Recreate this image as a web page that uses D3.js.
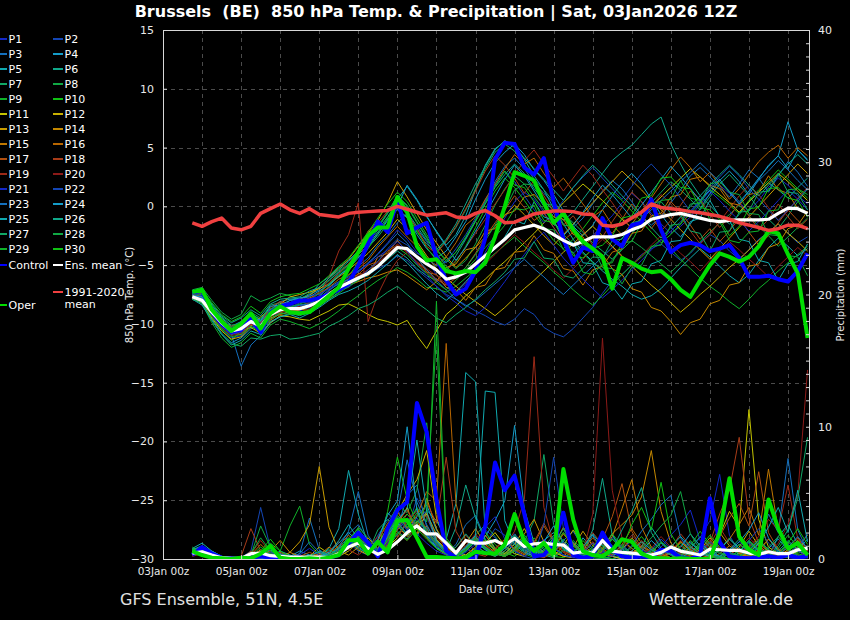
<!DOCTYPE html>
<html>
<head>
<meta charset="utf-8">
<script src="https://cdn.jsdelivr.net/npm/d3@7"></script>
<style>
body { margin: 0; background: #000; }
svg { display: block; font-family: "DejaVu Sans", sans-serif; }
</style>
</head>
<body>
<svg id="chart" width="850" height="620"></svg>
<script>
// ensemble members P1..P30
var memberNames = ["P1","P2","P3","P4","P5","P6","P7","P8","P9","P10",
	"P11","P12","P13","P14","P15","P16","P17","P18","P19","P20",
	"P21","P22","P23","P24","P25","P26","P27","P28","P29","P30"];

var memberColors = ["#1428c8","#1446b4","#1470be","#149cc8","#10aab0","#10a88a","#10a866","#10a844","#10b22a","#10c014",
	"#c4c400","#c8b000","#c89c00","#c48800","#c07800","#b86600","#b05010","#a83c18","#9c2a18","#8c1a18",
	"#1428c8","#1446b4","#1470be","#149cc8","#10aab0","#10a88a","#10a866","#10a844","#10b22a","#10c014"];

// 850 hPa temperature, 6-hourly from 03Jan 18z to 19Jan 12z
var tempControl = [-7.3,-7.2,-9.0,-10.0,-10.7,-10.5,-9.5,-10.7, -9.0,-8.5,-8.3,-8.0,-8.0,-7.8,-7.5,-7.1,
	-6.6,-5.0,-3.2,-1.3,-2.2,0.5,-2.3,-1.8, -1.4,-4.3,-6.3,-7.5,-7.0,-5.5,-2.7,4.0,
	5.4,5.3,3.3,2.7,4.1,0.4,-2.8,-4.8, -3.5,-3.8,-1.0,-2.8,-3.4,-1.6,-1.4,0.6,
	-2.0,-3.9,-3.3,-3.1,-3.3,-3.8,-3.6,-3.3, -4.4,-6.0,-6.0,-5.9,-6.2,-6.4,-5.5,-4.0];

var tempOper = [-7.3,-7.1,-8.8,-9.8,-10.6,-10.0,-9.1,-10.4, -9.1,-8.5,-9.0,-9.1,-9.0,-8.3,-7.6,-6.9,
	-5.3,-3.9,-2.5,-1.8,-1.8,0.8,-0.5,-3.4, -4.6,-4.5,-5.5,-5.7,-5.5,-5.6,-4.8,-2.6,
	0.0,2.9,2.6,2.2,0.3,-1.4,-0.6,-2.0, -3.0,-3.6,-4.3,-7.0,-4.4,-4.8,-5.3,-5.6,
	-5.5,-6.2,-7.1,-7.7,-6.3,-5.0,-4.0,-4.3, -4.7,-4.3,-3.4,-2.1,-2.3,-4.1,-5.7,-11.2];

var tempMean = [-7.7,-8.0,-9.0,-9.9,-10.6,-10.4,-9.8,-10.2, -9.2,-8.8,-8.7,-8.7,-8.45,-8.1,-7.5,-6.9,
	-6.5,-6.1,-5.7,-5.1,-4.3,-3.5,-3.6,-4.3, -4.9,-5.4,-6.2,-6.0,-5.6,-4.9,-4.2,-3.5,
	-2.8,-2.0,-1.8,-1.6,-1.9,-2.4,-2.9,-3.3, -3.0,-2.6,-2.6,-2.6,-2.4,-2.0,-1.7,-1.1,
	-0.9,-0.7,-0.6,-0.8,-1.0,-1.2,-1.3,-1.2, -1.15,-1.15,-1.15,-1.1,-0.6,-0.15,-0.2,-0.6];

var tempClimate = [-1.4,-1.7,-1.3,-1.0,-1.85,-2.0,-1.7,-0.6, -0.2,0.2,-0.3,-0.6,-0.2,-0.7,-0.8,-0.9,
	-0.6,-0.5,-0.45,-0.4,-0.35,0.0,-0.25,-0.5, -0.75,-0.65,-0.55,-0.9,-1.0,-0.6,-0.35,-0.8,
	-1.4,-1.35,-1.0,-0.65,-0.5,-0.4,-0.4,-0.45, -0.65,-0.7,-1.6,-1.7,-1.5,-1.0,-0.5,0.2,
	-0.1,-0.2,-0.3,-0.45,-0.55,-0.7,-0.85,-1.1, -1.4,-1.6,-1.8,-2.05,-1.9,-1.6,-1.6,-1.9];

var tempMembers = [
	[-7.6,-7.9,-9.3,-10.4,-11.2,-11.0,-10.1,-10.6, -9.6,-9.0,-8.8,-8.9,-8.6,-8.0,-7.4,-6.8, -6.2,-5.5,-4.9,-4.0,-3.1,-2.0,-2.8,-3.9, -4.6,-5.8,-6.9,-7.4,-6.6,-5.2,-3.9,-2.4, -1.0,0.4,1.2,0.6,-0.5,-1.8,-3.1,-4.0, -3.2,-2.5,-1.6,-0.8,0.3,1.1,0.4,-0.6, -1.5,-2.3,-1.7,-0.9,0.2,1.0,1.8,1.1, 0.3,-0.4,0.5,1.6,2.4,1.8,0.9,0.2],
	[-7.8,-8.1,-8.8,-9.7,-10.3,-10.8,-9.5,-9.9, -8.9,-8.5,-8.6,-8.2,-8.1,-7.9,-7.2,-6.5, -6.3,-6.0,-5.8,-5.3,-4.9,-4.2,-4.6,-5.4, -6.1,-6.8,-7.5,-7.9,-8.4,-8.9,-9.3,-9.8, -10.1,-9.6,-8.7,-9.2,-10.3,-10.8,-11.1,-10.4, -9.5,-8.6,-7.4,-6.3,-5.8,-5.0,-4.1,-3.6, -3.2,-3.9,-4.6,-4.0,-3.1,-2.4,-2.9,-3.8, -4.5,-3.7,-2.8,-2.2,-1.5,-2.3,-3.1,-2.6],
	[-7.5,-7.6,-8.9,-10.1,-10.9,-13.6,-11.8,-11.0, -9.9,-9.4,-9.1,-8.7,-8.3,-7.6,-6.9,-6.4, -5.9,-5.1,-4.4,-3.3,-2.5,-1.4,-0.6,-1.9, -3.0,-4.2,-4.8,-3.9,-2.7,-1.2,0.5,2.1, 3.4,4.1,3.2,2.0,1.1,0.3,-0.9,-1.8, -1.0,0.2,1.3,2.2,1.5,0.4,-0.8,-1.6, -0.9,0.3,1.4,2.6,3.3,2.5,1.6,0.8, 1.9,3.1,2.4,1.2,2.6,3.8,2.9,1.7],
	[-7.9,-8.2,-9.6,-10.8,-11.6,-11.2,-10.4,-10.0, -9.3,-8.7,-8.0,-7.9,-7.5,-7.1,-6.3,-5.6, -5.0,-4.1,-3.3,-2.2,-1.1,-0.3,-0.9,-2.4, -3.6,-4.4,-3.8,-2.6,-1.3,0.6,2.3,3.7, 4.6,5.3,4.4,3.1,2.2,1.0,-0.4,-1.7, -2.5,-1.6,-0.3,0.9,2.0,2.8,1.9,0.6, -0.7,-1.8,-2.6,-1.5,-0.2,1.1,2.2,3.0, 2.1,1.0,2.3,3.5,4.3,7.2,4.8,3.9],
	[-7.3,-7.0,-8.4,-9.5,-10.2,-9.8,-9.1,-9.7, -8.8,-8.1,-7.9,-7.8,-7.6,-6.6,-6.0,-5.2, -4.6,-3.8,-2.9,-1.8,-0.6,0.6,1.7,0.5, -0.9,-2.1,-3.3,-2.4,-0.8,1.4,3.5,4.9, 5.5,5.2,4.0,2.6,1.4,-0.2,-1.5,-2.8, -3.9,-4.7,-5.5,-6.2,-6.8,-7.5,-7.9,-7.6, -7.0,-6.1,-5.2,-4.4,-3.6,-4.3,-5.1,-5.9, -6.5,-5.8,-4.6,-3.5,-2.7,-3.4,-4.2,-3.6],
	[-7.7,-8.0,-9.1,-10.0,-10.7,-10.3,-9.7,-10.3, -9.1,-8.9,-9.1,-9.3,-9.0,-8.4,-7.9,-7.3, -6.6,-6.2,-5.9,-5.2,-4.5,-3.8,-4.4,-5.3, -5.9,-6.3,-5.6,-4.2,-2.8,-1.3,0.2,1.6, 2.7,3.6,2.8,1.5,0.5,-0.4,-1.2,-0.5, 0.6,1.7,2.8,3.9,4.6,5.2,6.1,7.0, 7.6,5.3,3.6,2.1,0.9,0.1,-0.8,-1.5, -0.7,0.4,1.2,2.0,1.4,0.7,1.6,2.4],
	[-7.4,-7.3,-8.5,-9.4,-10.1,-10.0,-9.2,-9.6, -8.4,-8.2,-8.5,-8.4,-8.2,-7.7,-6.8,-5.9, -5.2,-4.3,-3.5,-2.6,-1.5,-0.2,-1.0,-2.2, -3.2,-3.9,-2.9,-1.8,-0.3,1.5,3.2,4.6, 5.3,4.7,3.6,2.3,1.4,0.4,-0.6,-1.4, -2.2,-3.1,-3.8,-4.5,-3.6,-2.4,-1.1,0.3, 1.2,2.1,1.4,0.6,-0.3,0.8,1.9,2.7, 1.8,0.9,-0.2,-1.1,-1.9,-0.8,0.4,1.5],
	[-7.1,-6.9,-8.0,-9.0,-9.6,-9.2,-7.6,-8.1, -7.8,-7.4,-7.6,-7.9,-7.4,-6.9,-6.3,-5.5, -4.9,-4.0,-3.0,-1.8,-0.6,0.9,0.1,-1.3, -2.6,-3.8,-4.5,-5.3,-4.6,-3.2,-1.6,0.1, 1.5,2.6,1.9,0.8,-0.3,-1.3,-2.4,-3.2, -4.0,-4.8,-5.4,-4.6,-3.7,-2.9,-3.5,-4.2, -4.9,-5.6,-4.8,-3.9,-3.0,-2.2,-1.4,-0.7, 0.1,-0.8,-1.7,-2.5,-3.4,-2.6,-1.8,-1.0],
	[-7.8,-8.3,-9.9,-11.2,-12.0,-11.6,-10.8,-11.2, -10.1,-9.6,-9.8,-10.1,-10.4,-10.0,-9.5,-8.9, -8.2,-7.6,-6.9,-6.3,-5.8,-5.2,-5.6,-6.2, -6.9,-7.0,-7.3,-6.8,-6.1,-5.4,-4.7,-4.0, -3.3,-2.6,-3.4,-4.1,-4.8,-5.6,-6.3,-7.1, -7.8,-8.4,-7.6,-6.7,-5.8,-5.0,-4.3,-3.5, -2.8,-3.6,-4.5,-5.3,-6.1,-6.8,-7.4,-8.1, -8.7,-7.9,-7.0,-6.3,-5.5,-4.8,-4.1,-3.4],
	[-7.5,-7.8,-9.4,-10.5,-11.4,-10.6,-9.9,-10.1, -9.4,-9.0,-8.9,-8.6,-8.8,-8.3,-7.6,-6.7, -5.9,-4.8,-3.6,-2.3,-1.0,0.2,-0.7,-2.1, -3.5,-4.6,-5.4,-4.7,-3.4,-1.8,-0.2,1.3, 2.4,1.6,0.5,-0.7,-1.8,-2.9,-3.6,-2.8, -1.9,-0.8,0.3,1.2,0.5,-0.4,-1.3,-2.2, -3.1,-2.4,-1.5,-0.6,0.3,1.4,0.8,0.1, -0.6,0.5,1.4,2.2,3.1,2.3,1.5,0.7],
	[-7.6,-8.0,-9.2,-10.2,-10.9,-10.6,-10.3,-10.8, -9.9,-9.3,-9.4,-9.6,-9.7,-9.3,-8.9,-8.4, -8.3,-8.7,-9.2,-9.6,-9.8,-10.1,-9.7,-11.0, -12.1,-10.6,-9.2,-8.5,-7.6,-6.9,-6.2,-5.4, -4.7,-3.9,-3.1,-2.3,-1.4,-0.6,0.3,1.1, 1.9,1.2,0.5,-0.3,-1.1,-1.8,-1.0,-0.1, 0.8,1.6,2.4,3.2,2.5,1.7,1.0,0.3, -0.5,0.4,1.2,2.0,2.8,2.1,1.3,0.5],
	[-7.9,-8.2,-9.5,-10.6,-11.3,-11.1,-10.2,-9.4, -8.8,-8.3,-7.7,-7.5,-7.3,-7.0,-6.6,-6.0, -5.4,-4.7,-4.0,-3.1,-2.2,-1.1,-1.9,-3.0, -4.2,-5.3,-6.1,-6.8,-7.5,-8.1,-8.7,-9.3, -8.6,-7.8,-7.0,-6.3,-5.5,-4.7,-3.9,-3.2, -2.4,-1.7,-2.5,-3.4,-4.2,-5.1,-5.9,-6.7, -7.4,-8.2,-9.0,-8.3,-7.5,-6.8,-6.0,-5.2, -4.5,-3.7,-2.9,-2.2,-1.5,-2.3,-3.0,-3.8],
	[-7.3,-7.5,-8.7,-9.8,-10.5,-10.1,-9.4,-9.8, -8.9,-8.4,-8.2,-7.9,-7.6,-6.9,-6.1,-5.3, -4.5,-3.4,-2.3,-1.2,0.3,2.1,0.8,-0.6, -2.0,-3.1,-4.3,-5.2,-4.4,-3.5,-2.6,-1.7, -0.8,0.1,-0.7,-1.6,-2.5,-3.3,-2.4,-1.5, -0.6,0.3,1.2,2.1,3.0,2.2,1.4,0.5, -0.3,-1.1,-2.0,-2.8,-3.7,-4.5,-3.6,-2.7, -1.8,-0.9,0.0,0.9,1.8,2.7,3.6,2.8],
	[-7.7,-8.1,-9.0,-10.3,-10.8,-10.9,-10.0,-10.4, -9.5,-9.2,-9.0,-8.8,-8.5,-8.2,-7.6,-7.0, -6.7,-6.4,-6.1,-5.9,-5.6,-5.4,-5.9,-6.5, -7.1,-6.4,-5.2,-4.9,-3.7,-3.5,-2.1,-1.9, -0.7,-0.4,0.8,1.0,0.2,-0.9,-1.1,-2.4, -2.6,-3.9,-4.1,-5.3,-5.8,-7.0,-7.3,-8.6, -8.9,-9.8,-10.9,-9.9,-9.6,-8.3,-8.0,-6.7, -6.5,-5.1,-4.9,-3.5,-3.2,-1.9,-1.6,-0.4],
	[-7.4,-7.7,-8.6,-9.6,-10.4,-10.2,-9.9,-10.5, -9.7,-9.1,-8.6,-8.7,-8.9,-8.5,-7.8,-7.1, -6.8,-5.7,-5.9,-4.3,-4.0,-2.9,-3.9,-4.2, -5.6,-5.8,-6.9,-7.1,-8.0,-6.9,-6.7,-5.4, -5.2,-3.9,-3.8,-2.5,-3.7,-4.0,-5.3,-5.5, -6.7,-5.4,-5.1,-3.9,-3.6,-2.3,-2.1,-0.8, -0.6,0.8,1.0,2.3,2.5,1.8,1.5,0.3, 0.1,1.0,1.2,2.6,1.4,1.1,-0.2,-0.5],
	[-7.6,-7.9,-9.0,-9.8,-10.6,-10.5,-10.1,-10.0, -9.0,-8.6,-8.4,-8.1,-7.8,-7.4,-6.9,-6.2, -5.8,-5.3,-4.6,-3.5,-2.6,-1.7,-2.6,-3.4, -4.5,-5.0,-4.3,-3.1,-1.6,-0.9,0.6,1.9, 3.2,4.4,3.6,4.1,2.8,1.6,2.4,1.3, 0.2,-0.9,-0.3,-1.6,-2.4,-1.5,-0.4,0.7, 1.9,3.1,4.2,3.3,2.1,2.9,1.8,0.6, 1.5,2.7,3.8,4.6,5.2,4.1,5.0,4.3],
	[-7.8,-8.0,-9.2,-10.1,-10.8,-10.4,-9.6,-10.2, -9.4,-8.8,-8.9,-8.8,-8.4,-8.1,-7.3,-6.9, -6.1,-5.8,-5.0,-4.7,-3.8,-3.3,-3.9,-4.8, -5.4,-6.2,-6.7,-6.1,-5.2,-4.0,-2.6,-1.4, -0.3,0.9,-0.1,-1.2,-0.6,-1.8,-2.9,-2.2, -3.4,-2.7,-1.5,-2.3,-1.1,0.2,-0.7,-1.9, -0.8,0.4,-0.5,-1.6,-2.8,-1.9,-3.0,-2.1, -1.0,-2.2,-3.3,-2.5,-1.4,-0.3,-1.2,-2.0],
	[-7.5,-7.4,-8.8,-9.9,-10.2,-10.0,-9.3,-9.9, -8.6,-8.1,-8.3,-8.0,-7.9,-7.3,-6.5,-5.7, -4.9,-3.8,-2.1,-1.4,-0.4,0.7,-0.6,-1.9, -3.4,-4.0,-3.0,-1.7,-0.2,1.3,3.0,4.3, 3.5,2.4,1.1,2.2,0.9,-0.4,-1.6,-0.8, -2.0,-3.3,-2.6,-1.3,-0.1,1.2,0.4,-0.8, -2.1,-1.2,0.1,1.3,0.6,-0.7,-1.8,-0.9, 0.3,-0.8,-2.0,-1.1,0.2,-0.9,-1.9,-1.1],
	[-7.6,-7.8,-9.1,-10.0,-10.5,-10.3,-9.8,-10.1, -9.0,-8.7,-8.6,-8.5,-8.2,-7.6,-6.0,-3.8, -2.4,0.3,-9.8,-7.5,-5.8,-4.6,-3.9,-4.8, -5.6,-6.4,-5.5,-4.6,-3.5,-2.3,-1.1,0.2, 1.4,2.7,3.9,4.8,3.6,2.5,1.3,2.4, 3.5,2.6,1.4,0.3,-0.9,-2.0,-1.2,-0.1, 1.0,0.2,-0.9,-2.1,-3.2,-2.4,-1.3,-0.2, 0.9,1.8,1.0,-0.1,-1.2,-0.4,0.7,1.6],
	[-7.7,-8.1,-9.3,-10.3,-11.0,-10.8,-10.0,-10.4, -9.3,-9.0,-8.9,-9.0,-8.7,-8.3,-7.6,-7.0, -6.5,-5.9,-5.4,-4.8,-4.1,-3.2,-3.9,-4.7, -5.3,-5.9,-6.6,-7.2,-6.5,-5.7,-4.9,-4.1, -3.2,-2.4,-3.1,-3.9,-4.6,-5.4,-6.1,-5.3, -4.5,-3.6,-2.8,-3.5,-4.3,-5.0,-4.2,-3.3, -2.5,-3.2,-4.0,-4.7,-5.5,-4.6,-3.8,-3.0, -3.7,-4.5,-5.2,-6.0,-5.1,-4.3,-3.5,-4.2],
	[-7.4,-7.6,-8.7,-9.9,-10.7,-10.1,-9.5,-10.0, -9.1,-8.8,-8.3,-8.1,-7.6,-7.5,-7.0,-6.5, -6.0,-5.6,-4.9,-4.3,-3.7,-3.0,-3.8,-4.9, -5.9,-6.8,-7.6,-8.2,-8.9,-9.3,-8.6,-7.5, -6.4,-5.2,-4.1,-3.0,-2.2,-3.3,-4.4,-5.3, -6.2,-7.0,-7.8,-7.1,-6.3,-5.4,-4.6,-3.7, -2.9,-2.1,-1.3,-0.5,0.4,1.3,0.5,-0.4, -1.2,-2.1,-1.3,-0.4,0.5,1.4,0.6,-0.3],
	[-7.7,-7.9,-9.0,-10.2,-10.9,-10.7,-9.9,-10.3, -9.2,-8.7,-8.5,-8.4,-8.6,-8.0,-7.7,-7.1, -6.9,-6.2,-5.4,-4.7,-3.6,-2.8,-3.3,-4.0, -4.4,-5.1,-4.7,-3.6,-2.4,-1.0,0.4,1.8, 3.0,2.1,0.9,-0.3,-1.4,-0.6,0.5,1.6, 2.5,3.3,2.4,1.5,0.6,1.7,2.8,3.6, 2.7,1.8,0.7,-0.4,0.5,1.6,2.5,3.4, 2.6,1.5,0.6,-0.3,-1.2,-0.3,0.6,1.5],
	[-7.5,-7.8,-9.2,-10.1,-10.8,-10.3,-9.6,-9.8, -9.0,-8.8,-8.7,-8.4,-8.3,-7.8,-7.1,-6.6, -6.2,-5.5,-4.8,-4.1,-3.2,-2.3,-3.1,-4.4, -5.4,-6.3,-7.1,-7.9,-8.5,-8.0,-7.3,-6.6, -5.9,-5.2,-4.5,-5.3,-6.0,-6.8,-7.5,-6.7, -5.9,-5.1,-4.3,-3.5,-2.7,-1.9,-1.1,-0.3, 0.5,1.3,2.1,2.9,3.7,2.9,2.1,1.3, 0.4,1.3,2.2,3.0,3.9,3.1,2.2,1.4],
	[-7.6,-7.7,-8.9,-9.8,-10.5,-10.0,-9.4,-9.7, -8.5,-8.4,-8.0,-7.8,-7.7,-7.2,-6.7,-5.9, -5.3,-4.4,-3.4,-2.4,-1.2,0.0,1.8,0.6, -0.8,-2.2,-3.4,-4.6,-3.5,-2.1,-0.7,0.8, 2.3,3.5,2.6,1.3,0.0,-1.3,-2.5,-1.6, -0.5,0.7,1.8,1.0,0.0,-1.0,0.1,1.2, 2.3,3.4,2.5,1.5,0.5,1.4,2.3,1.2, 0.2,1.3,2.4,3.4,4.3,3.2,4.8,4.0],
	[-7.9,-8.4,-9.7,-10.9,-11.8,-11.4,-10.6,-10.9, -9.8,-9.4,-9.2,-9.5,-9.1,-8.6,-8.0,-7.5, -7.2,-6.8,-6.3,-5.6,-4.9,-4.1,-4.8,-5.7, -6.6,-7.4,-8.0,-7.3,-6.4,-5.5,-4.5,-3.6, -2.6,-1.2,-1.5,0.4,-0.9,-1.2,-2.9,-3.1, -4.8,-4.9,-6.5,-6.8,-7.9,-6.6,-6.4,-4.9, -4.6,-3.0,-2.9,-1.3,-1.0,0.5,-0.9,-1.2, -2.8,-3.0,-4.6,-4.8,-6.3,-4.9,-4.7,-3.2],
	[-7.3,-7.2,-8.3,-9.3,-9.9,-9.5,-8.8,-9.3, -8.3,-7.9,-7.8,-7.7,-7.2,-6.9,-6.1,-5.4, -4.7,-3.9,-3.1,-2.0,-0.9,0.4,-0.5,-1.7, -2.9,-3.7,-2.8,-1.5,0.2,1.9,3.4,4.8, 5.6,5.0,4.1,3.2,2.3,1.4,0.5,1.6, 2.6,3.5,2.7,1.8,0.9,0.0,-0.9,-1.8, -2.7,-1.8,-0.9,0.0,0.9,1.8,2.7,3.5, 2.7,1.8,0.9,1.8,2.7,3.6,4.4,3.6],
	[-7.9,-8.2,-9.7,-10.9,-11.7,-11.9,-11.2,-11.3, -11.0,-10.9,-11.3,-11.2,-11.0,-10.8,-10.2,-9.8, -9.3,-8.7,-8.4,-7.9,-7.3,-6.8,-7.5,-8.2, -8.8,-9.5,-9.9,-9.2,-8.6,-7.9,-7.1,-6.4, -5.6,-4.5,-4.4,-3.0,-4.4,-4.5,-5.9,-6.1, -5.3,-4.3,-4.4,-2.9,-2.8,-1.4,-1.2,0.3, 0.4,-0.6,-0.7,-2.1,-2.3,-3.8,-2.2,-2.1, -0.5,-0.4,1.2,1.3,2.8,1.2,1.1,-0.3],
	[-7.4,-7.5,-8.6,-9.7,-10.3,-9.9,-9.0,-9.5, -8.7,-8.5,-8.6,-8.3,-8.0,-7.4,-6.6,-5.8, -5.0,-4.0,-2.9,-1.7,-0.5,0.9,0.0,-1.4, -2.7,-4.0,-5.1,-6.0,-5.2,-4.1,-2.9,-1.6, -0.3,1.4,1.9,1.8,0.2,0.1,-1.6,-1.7, -3.4,-3.5,-5.2,-5.3,-6.6,-5.2,-5.0,-3.4, -3.3,-1.6,-1.5,0.2,0.3,1.9,2.1,1.2, 1.0,-0.6,-0.7,-2.4,-2.5,-4.2,-4.3,-5.9],
	[-7.6,-8.0,-9.4,-10.4,-11.1,-10.9,-10.2,-10.7, -9.6,-9.1,-9.2,-9.0,-8.9,-8.5,-7.9,-7.4, -6.8,-6.3,-5.6,-5.0,-4.2,-3.5,-4.1,-5.0, -5.7,-6.5,-7.1,-6.3,-5.4,-4.5,-3.5,-2.6, -1.6,-0.2,-0.3,0.1,-1.9,-2.0,-3.7,-3.9, -5.6,-5.8,-4.9,-4.8,-3.1,-3.0,-1.4,-1.3, 0.5,0.6,2.2,0.7,0.5,-1.1,-1.3,-2.9, -3.1,-2.2,-2.1,-0.4,-0.3,1.4,1.5,1.0],
	[-7.2,-7.1,-8.2,-9.2,-9.8,-9.4,-8.5,-9.1, -8.1,-7.7,-7.5,-7.4,-7.0,-6.6,-5.9,-5.1, -4.4,-3.3,-2.2,-1.0,0.2,1.2,0.4,-1.0, -2.4,-3.6,-4.7,-3.9,-2.6,-1.2,0.3,1.7, 3.0,1.8,1.6,0.4,-1.2,-1.4,-2.5,-4.2, -4.4,-3.6,-3.3,-2.5,-1.0,-0.8,0.7,0.9, 2.4,2.5,1.6,1.5,-0.1,-0.3,-1.1,-2.5, -1.7,-0.2,-0.1,1.5,1.6,0.7,0.5,-0.9]
];

// 6-hourly precipitation (mm)
var precipControl = [0.3,0.9,0.4,0.1,0.05,0,0.1,0.2, 0.1,0,0,0,0.05,0,0.1,0.3,
	1.2,2.0,1.2,0.2,2.3,3.7,4.3,11.8, 9.6,4.5,0.6,0.1,0,0.05,2.5,7.3,
	5.2,6.3,3.4,0.2,0.3,1.2,3.5,0.3, 0.1,0.2,2.0,0.7,0.2,0.1,0.2,0.1,
	0.7,0.6,0.1,0,0.3,4.6,1.3,0.2, 0.1,0.05,0.1,0.2,0.1,0.3,0.1,0.2];

var precipOper = [0.6,0.3,0.1,0.05,0,0.1,0.05,0.4, 1.0,0.1,0,0,0.05,0,0.1,0.3,
	1.4,1.45,0.4,1.3,0.5,2.9,2.95,1.6, 0.15,0.15,0.1,0.05,0.1,0.55,0.45,0.4,
	1.1,3.4,1.3,0.6,1.2,0.3,6.8,3.0, 0.6,0.3,0.2,0.7,1.5,1.3,0.4,0.1,
	0.05,0,0.05,0,0,0,2.0,6.1, 1.7,0.7,0.3,4.5,2.3,0.8,1.2,0.3];

var precipMean = [0.45,0.55,0.3,0.1,0.05,0.05,0.4,0.45, 0.25,0.2,0.15,0.15,0.15,0.15,0.1,0.4,
	0.9,1.2,0.8,0.35,0.7,1.3,2.0,2.5, 1.9,1.9,1.2,0.45,1.4,1.2,1.2,1.4,
	1.05,1.55,0.95,1.15,1.2,1.1,1.05,0.45, 0.55,0.45,1.4,0.6,0.5,0.45,0.35,0.3,
	0.5,0.9,0.6,0.45,0.3,0.75,0.7,0.65, 0.65,0.45,0.35,0.55,0.4,0.4,0.7,0.8];

var precipMembers = [
	[0.4,0.6,0.3,0.1,0,0,0.1,0.3, 0.2,0,0,0,0.1,0,0,0.2, 0.8,1.5,1.1,0.4,1.2,2.4,3.1,2.6, 1.8,1.2,0.5,0.2,0.6,1.4,2.2,1.6, 0.9,1.3,0.7,0.4,1.1,0.8,0.3,0.1, 0,0.2,0.5,0.3,0,0.1,0.4,0.2, 0,0,0.3,0.8,1.6,2.9,6.4,1.8, 0.5,0.2,0.1,0.6,0.3,0.1,0,0.2],
	[0.3,0.5,0.2,0,0,0.1,0.6,3.9, 0.8,0.2,0,0,0,0,0.1,0.4, 1.2,0.6,0.3,1.8,2.9,3.8,2.1,4.6, 3.2,1.4,0.3,0,0.1,0.5,1.1,2.3, 1.8,0.6,0.2,0,0.4,1.3,0.9,0.2, 0.1,0,0,0.3,1.1,0.4,0,0, 0.2,0.9,0.5,0,0,0.3,0.1,0, 0.4,1.2,0.6,0.2,0,0.5,0.9,0.3],
	[0.5,0.7,0.4,0.2,0.1,0,0,0.2, 0.5,0.3,0.1,0.4,3.1,0.7,0.2,0.3, 1.9,2.6,1.4,0.5,1.6,2.2,4.8,5.6, 2.4,0.8,0.4,1.1,2.6,3.3,1.5,0.7, 0.3,0.9,1.6,0.8,0.2,0.5,1.4,2.1, 0.9,0.3,0.1,0,0.2,0.6,0.3,0.1, 0,0.1,0.4,1.2,0.7,0.3,0.1,0, 0.2,0.5,1.1,3.4,2.0,7.6,2.2,0.6],
	[0.6,0.9,0.5,0.1,0,0,0,0.1, 0.1,0,0.2,0.6,0.3,0.1,0,0.5, 1.4,0.9,0.4,1.3,3.5,2.7,1.9,3.2, 4.1,2.2,1.0,0.5,0.3,0.8,1.7,2.9, 4.4,10.1,3.8,1.2,0.4,0.9,0.3,0.1, 0.6,1.8,0.7,0.2,0,0.3,1.0,0.4, 0.1,0,0.6,1.3,0.5,0.2,0,0.4, 1.1,0.6,0.3,0.8,1.5,0.7,0.2,0.1],
	[0.8,1.2,0.6,0.2,0.1,0,0,0, 0.2,0.6,0.3,0,0,0.2,0.8,2.3, 6.7,3.4,1.1,0.6,1.8,3.1,2.4,1.6, 3.7,2.9,1.5,4.2,14.1,13.4,2.1,0.8, 0.4,1.2,0.6,0.2,1.4,2.0,0.7,0.3, 1.6,0.8,0.7,1.9,0.5,0.2,0.9,2.4, 1.3,0.4,0.1,0,0.3,0.8,0.2,0, 0.5,1.4,0.6,0.2,1.7,2.6,1.1,0.4],
	[0.5,0.8,0.4,0.1,0,0,0.2,0.1, 0,0,0,0.1,0.3,0.5,0.2,0.4, 1.1,2.0,0.9,0.3,0.8,1.9,2.6,3.8, 2.1,1.3,0.6,2.4,5.6,3.1,1.4,0.6, 0.2,0.8,1.5,0.9,0.3,0.1,0.6,1.3, 0.5,2.2,6.1,1.8,0.7,0.3,0.1,0.4, 0.2,0,0,0.2,0.6,0.3,0.1,0, 0,0.3,0.8,0.4,0.1,0.6,1.2,0.5],
	[0.7,0.9,0.5,0.2,0.1,0,0,0.3, 0.6,0.2,0,0,0,0.1,0.3,0.9, 1.6,1.0,0.5,2.2,3.0,2.1,1.5,2.8, 3.4,1.9,0.8,0.3,0.9,1.8,2.6,1.7, 0.8,0.4,1.3,2.9,7.9,2.6,1.1,0.4, 0.2,0.7,1.4,0.6,0.2,0,0.3,0.9, 0.4,0.1,0,0.3,1.0,0.5,0.2,0, 0.1,0.4,0.9,0.3,0,0.2,0.6,0.8],
	[0.9,0.6,0.3,0.1,0,0,0.3,2.5, 0.9,0.2,0,0,0,0,0.2,0.6, 1.3,2.4,1.6,0.7,2.5,4.1,3.5,5.2, 10.3,3.8,1.2,0.5,0.8,1.6,0.9,0.4, 0.2,0.7,1.5,0.8,0.3,0.9,2.0,1.1, 0.4,0.1,0,0.2,0.8,1.5,0.6,0.2, 0.1,0.5,1.2,0.4,0,0.2,0.7,1.6, 0.8,0.3,0.1,0,0.4,1.3,0.6,0.2],
	[0.6,0.4,0.2,0,0,0,0.1,0.4, 1.2,0.6,2.5,4.0,1.1,0.3,0.1,0.5, 1.0,1.7,0.8,0.4,2.0,3.3,2.6,3.9, 2.8,19.5,1.6,0.6,0.2,0.5,1.2,0.7, 0.3,0.9,0.4,0.1,0.6,1.5,0.8,0.3, 0.1,0.4,1.1,0.5,0.2,0,0.3,0.7, 0.3,0.1,0.5,1.4,0.6,0.2,0,0.1, 0.4,0.9,0.3,0.1,0.5,1.0,0.4,0.2],
	[0.4,0.5,0.3,0.1,0,0,0,0, 0.1,0.3,0.1,0,0,0,0.2,0.7, 1.5,2.3,1.2,0.6,3.6,7.7,4.5,2.7, 1.6,0.8,0.4,0.2,0.7,1.3,2.0,1.1, 0.5,0.2,0.8,1.6,0.7,0.2,0.1,0.5, 1.4,0.6,0.2,0,0.3,0.9,1.7,0.8, 0.3,0.1,0,0.4,1.1,0.5,0.2,0, 0.3,0.8,1.5,0.7,0.2,0.1,0.5,0.9],
	[0.5,0.7,0.3,0.1,0,0,0,0.1, 0.3,0.1,0,0,0.2,0.9,0.4,0.2, 0.6,1.3,0.7,0.3,0.9,1.6,2.9,2.2, 3.4,1.5,0.7,0.3,0.1,0.6,1.2,2.0, 1.0,0.4,0.2,0.7,1.4,0.6,0.2,0.1, 0.5,1.2,0.6,0.2,0,0.4,1.0,0.5, 0.2,0.6,1.3,0.7,0.3,0.9,1.8,3.6, 2.4,11.3,3.0,0.9,0.4,0.2,0.6,0.3],
	[0.3,0.6,0.4,0.2,0,0,0.1,0.2, 0.1,0,0,0,0.1,0.4,0.2,0.8, 1.4,0.7,0.3,1.1,2.4,3.5,4.9,6.0, 8.2,3.1,1.4,0.6,0.3,0.9,1.8,0.8, 0.4,1.1,2.3,1.2,0.5,0.2,1.0,2.2, 1.1,0.4,0.1,0.6,1.5,0.8,0.3,0.1, 0.4,1.0,0.5,0.2,0.7,1.6,0.8,0.3, 0.9,2.1,1.0,0.4,0.2,0.7,1.4,0.6],
	[0.4,0.5,0.2,0,0,0,0.2,0.7, 0.3,0.1,0.5,1.3,2.6,7.0,2.4,0.6, 0.3,0.9,1.6,0.8,1.9,2.6,3.9,1.8, 4.6,2.3,1.0,0.4,0.2,0.6,1.4,0.7, 0.3,0.8,1.9,3.0,1.3,0.5,0.2,0.9, 2.1,1.0,0.4,0.2,0.7,1.6,0.8,0.3, 0.1,0.5,1.3,0.6,0.2,0.8,2.0,1.0, 0.4,0.2,0.6,1.5,0.7,0.3,0.9,1.8],
	[0.6,0.8,0.3,0.1,0,0,0,0.2, 0.6,1.4,0.5,0.2,0,0,0.1,0.3, 0.9,1.8,1.0,0.4,1.3,2.5,1.7,2.8, 3.5,1.8,0.9,0.4,1.2,2.3,1.1,0.5, 0.2,0.6,1.3,0.7,0.3,1.0,2.4,1.2, 0.5,0.2,0.8,1.9,2.6,3.3,4.7,8.2, 3.6,1.2,0.5,0.2,0.6,1.4,0.7,0.3, 0.1,0.5,1.2,0.6,0.3,0.9,1.6,0.7],
	[0.3,0.4,0.2,0.1,0,0,0.3,1.1, 0.4,0.1,0,0,0,0.3,0.9,0.4, 0.8,1.5,0.6,0.3,1.0,2.2,3.0,1.9, 2.5,1.4,0.7,0.3,0.8,1.6,0.9,0.4, 0.2,0.7,1.5,0.7,0.3,0.8,1.9,1.0, 0.4,0.2,0.6,1.7,3.8,6.0,2.4,0.9, 0.4,0.1,0.3,0.9,0.5,0.2,0.7,1.5, 2.6,3.9,1.8,6.8,2.2,0.8,0.3,0.1],
	[0.5,0.6,0.3,0.1,0,0,0,0, 0.2,0.5,0.2,0,0,0.1,0.4,1.0, 1.8,1.1,0.5,1.4,2.7,3.6,2.3,3.3, 5.1,4.4,16.3,4.2,1.3,0.6,0.3,0.8, 1.5,0.7,0.3,1.2,2.5,1.3,0.5,0.2, 0.7,1.6,0.8,0.3,1.1,2.3,1.2,0.5, 0.2,0.6,1.3,0.7,0.3,0.1,0.4,1.0, 0.5,0.2,0.7,1.5,0.8,0.3,0.1,0.4],
	[0.4,0.7,0.5,0.2,0,0,0.6,0.3, 0.1,0,0,0.2,0.5,0.2,0,0.3, 0.9,1.4,0.7,0.3,1.1,2.3,3.4,2.5, 1.6,0.8,0.3,0.9,1.8,1.0,0.5,0.2, 0.6,1.4,0.8,0.3,0.1,0.5,1.2,0.6, 0.2,0.7,1.5,3.2,5.7,2.1,0.8,0.3, 0.1,0.4,1.0,0.5,0.2,0.8,1.7,3.1, 4.2,2.5,6.6,2.0,0.7,0.3,0.1,0.5],
	[0.3,0.5,0.3,0.1,0,0.2,2.3,0.6, 0.2,0,0,0,0.1,0.3,0.2,0.5, 1.2,2.0,1.1,0.5,1.6,2.8,3.7,2.4, 4.3,2.7,7.7,2.1,0.8,0.4,0.2,0.7, 1.5,0.8,0.4,1.3,2.7,1.4,0.6,0.3, 0.9,2.0,1.1,0.5,0.2,0.6,1.4,0.7, 0.3,0.8,1.9,1.0,0.4,1.2,3.4,5.2, 9.2,3.1,1.2,0.5,0.2,0.6,1.3,0.6],
	[0.2,0.4,0.2,0,0,0,0.4,1.4, 0.5,0.1,0,0,0,0.2,0.6,1.3, 0.7,0.3,0.9,1.7,2.4,1.6,2.9,3.6, 2.2,1.1,0.5,0.2,0.7,1.5,0.8,0.3, 0.9,2.1,4.5,15.3,3.9,1.2,0.5,0.2, 0.6,1.3,0.7,0.3,0.9,1.8,1.0,0.4, 0.2,0.6,1.4,0.8,0.3,1.1,2.4,1.2, 0.5,0.9,1.7,3.0,2.2,5.6,1.5,0.6],
	[0.3,0.5,0.4,0.1,0,0,0.1,0.5, 0.9,0.3,0.1,0,0,0,0.2,0.6, 1.1,1.9,0.9,0.4,1.3,2.0,1.4,2.7, 3.3,1.7,0.8,0.3,1.0,1.9,1.0,0.4, 0.2,0.7,1.4,0.8,0.3,0.9,2.0,1.1, 0.5,3.4,16.7,5.2,1.6,0.6,0.3,0.8, 1.7,0.9,0.4,0.2,0.6,1.3,0.7,0.3, 0.8,1.6,0.9,0.4,1.2,2.6,4.9,14.3],
	[0.5,0.8,0.4,0.1,0,0,0,0.2, 0.5,0.2,0,0.3,0.8,0.3,0.1,0.4, 1.0,1.6,0.8,0.3,1.2,2.3,2.9,1.9, 1.2,0.6,0.3,0.1,0.5,1.1,2.4,3.2, 1.5,0.6,0.2,0.7,1.5,0.8,0.3,0.1, 0.5,1.2,0.6,0.2,0.7,1.4,0.7,0.3, 0.9,1.8,2.6,3.7,1.4,0.5,0.2,0.6, 1.3,0.7,0.3,0.1,0.4,1.1,0.6,0.2],
	[0.4,0.6,0.3,0.1,0,0,0,0.1, 0.3,0.1,0,0,0,0.1,0.3,0.7, 1.3,2.1,1.4,0.6,1.8,3.0,2.2,3.1, 2.0,1.0,0.4,0.2,0.9,1.7,0.9,0.4, 0.8,1.6,0.8,0.3,2.6,7.7,2.3,0.8, 0.3,0.1,0.5,1.6,0.9,0.4,0.2,0.7, 1.5,0.8,0.3,0.1,0.5,1.3,0.7,0.2, 0.6,1.4,2.3,1.2,0.5,0.2,0.8,1.9],
	[0.6,0.7,0.4,0.2,0,0,0.2,0.1, 0,0,0.1,0.4,1.3,0.5,0.2,0.9, 2.1,5.1,1.8,0.7,2.2,3.4,7.5,4.3, 2.6,1.3,0.6,0.3,0.8,1.5,0.7,0.3, 0.9,1.9,1.0,0.4,0.2,0.6,1.3,0.6, 0.2,0.5,1.2,0.6,0.3,1.0,2.1,3.0, 4.1,4.8,1.6,0.6,0.2,0.5,1.1,0.5, 0.2,0.7,1.4,0.7,0.3,0.9,1.7,0.8],
	[0.5,0.9,0.6,0.2,0.1,0,0,0, 0.2,0.4,0.2,0.1,0,0.2,0.5,1.2, 2.0,1.3,0.6,1.5,3.3,4.4,10.0,3.7, 1.8,0.9,0.4,0.2,0.6,1.3,0.7,0.3, 0.8,1.7,0.9,0.4,1.3,2.5,1.3,0.6, 0.2,0.7,1.5,0.8,0.3,0.1,0.6,1.4, 0.7,0.3,0.9,1.9,1.0,0.4,0.2,0.6, 1.3,2.2,3.5,1.6,0.6,0.2,0.7,1.5],
	[0.7,1.0,0.5,0.2,0,0,0,0.3, 0.7,0.3,0.1,0,0,0.1,0.4,1.4, 2.6,1.5,0.7,0.3,1.7,2.9,3.8,9.0, 3.6,1.4,0.6,0.3,0.9,1.8,12.7,12.6, 2.9,1.1,0.5,0.2,0.7,1.6,0.8,0.3, 0.9,1.9,1.0,0.4,0.2,0.6,1.3,0.7, 0.3,0.9,1.7,0.9,0.4,0.2,0.7,1.5, 0.8,0.4,1.2,2.4,3.9,2.0,5.2,1.3],
	[0.4,0.6,0.3,0.1,0,0,0.1,0.4, 0.2,0,0,0,0.2,0.6,0.3,0.8, 1.4,0.8,0.4,1.2,2.1,2.8,1.9,2.6, 1.7,0.8,0.4,0.9,1.9,1.0,0.5,0.2, 0.6,1.4,0.7,0.3,0.9,1.8,0.9,0.4, 0.2,0.6,1.3,0.7,2.2,3.6,5.4,2.0, 0.8,0.3,0.1,0.5,1.2,0.6,0.2,0.7, 1.5,0.8,0.4,0.2,0.6,1.4,0.7,0.3],
	[0.8,0.7,0.4,0.1,0,0,0,0.2, 0.4,0.2,0,0,0,0.2,0.7,0.3, 0.8,1.6,0.9,0.4,1.4,2.6,1.8,2.9, 2.3,1.2,0.6,0.3,0.8,1.7,0.9,0.4, 0.2,0.7,1.6,0.8,0.4,1.1,2.3,1.1, 0.5,0.2,0.7,1.5,0.8,0.3,0.1,0.5, 1.2,0.6,0.2,0.8,1.7,0.9,0.4,0.2, 0.6,1.3,0.7,0.3,1.0,2.2,4.6,9.2],
	[0.6,0.5,0.3,0.1,0,0,0.4,1.6, 0.6,0.2,0,0,0,0.1,0.3,0.6, 1.2,2.2,1.2,0.5,1.9,3.2,2.4,3.5, 2.0,1.1,0.5,0.2,0.6,1.4,0.8,0.3, 0.9,1.8,0.9,0.4,0.2,0.7,1.5,0.7, 0.3,0.9,1.9,1.0,0.4,0.2,0.8,1.6, 2.5,3.3,5.1,1.9,0.7,0.3,0.1,0.5, 1.1,0.6,0.3,0.9,1.7,0.8,0.3,0.1],
	[0.5,0.4,0.2,0,0,0,0.2,0.9, 0.4,0.1,0,0,0,0,0.2,0.5, 1.1,1.8,1.0,0.4,1.5,2.7,3.4,2.6, 4.2,16.9,1.4,0.6,0.2,0.7,1.5,0.8, 0.3,0.9,1.8,0.9,0.4,0.2,0.7,1.4, 0.7,0.3,0.9,1.9,1.0,0.4,0.2,0.6, 1.3,0.7,0.3,1.0,2.1,1.1,0.5,0.2, 0.6,1.4,0.7,0.3,0.8,1.8,0.9,0.4],
	[0.7,0.6,0.3,0.1,0,0,0.1,0.6, 1.5,0.6,0.2,0,0,0,0.2,0.4, 0.9,1.4,0.7,0.3,1.0,2.0,1.4,2.3, 1.5,0.8,0.4,0.2,0.7,1.5,0.8,0.4, 0.2,0.6,1.3,0.7,0.3,1.0,2.0,1.0, 0.4,0.2,0.7,1.5,0.8,2.6,3.9,2.2, 5.8,1.9,0.7,0.3,0.9,1.8,0.9,0.4, 0.2,0.6,1.3,0.7,0.3,1.2,2.3,1.1]
];

var tempTicks = [-30,-25,-20,-15,-10,-5,0,5,10,15];
var precipTicks = [0,10,20,30,40];

var LEFT = 163, RIGHT = 810, TOP = 30, BOTTOM = 559,
	HOUR = 3600e3,
	start = Date.UTC(2026, 0, 3, 0),
	end = Date.UTC(2026, 0, 19, 13, 30),
	firstStep = Date.UTC(2026, 0, 3, 18);

var svg = d3.select("#chart");

var x = d3.scaleUtc().domain([start, end]).range([LEFT, RIGHT]),
	yT = d3.scaleLinear().domain([-30, 15]).range([BOTTOM, TOP]),
	yP = d3.scaleLinear().domain([0, 40]).range([BOTTOM, TOP]);

var times = tempMean.map(function(d, i) { return new Date(firstStep + i * 6 * HOUR); });

svg.append("rect").attr("width", 850).attr("height", 620).attr("fill", "#000");

svg.append("clipPath").attr("id", "plot")
	.append("rect").attr("x", LEFT).attr("y", TOP).attr("width", RIGHT - LEFT).attr("height", BOTTOM - TOP);

// grid
var grid = svg.append("g")
	.attr("stroke", "#4b4b4b")
	.attr("stroke-width", 1)
	.attr("stroke-dasharray", "4,4");

grid.selectAll(".v")
	.data(d3.utcDay.range(new Date(start + 24 * HOUR), new Date(end)))
	.enter().append("line")
	.attr("x1", function(d) { return Math.round(x(d)) + 0.5; })
	.attr("x2", function(d) { return Math.round(x(d)) + 0.5; })
	.attr("y1", TOP).attr("y2", BOTTOM);

grid.selectAll(".h")
	.data(tempTicks.slice(1, -1))
	.enter().append("line")
	.attr("x1", LEFT).attr("x2", RIGHT)
	.attr("y1", function(d) { return Math.round(yT(d)) + 0.5; })
	.attr("y2", function(d) { return Math.round(yT(d)) + 0.5; });

var lineT = d3.line()
	.x(function(d, i) { return x(times[i]); })
	.y(function(d) { return yT(d); });

var lineP = d3.line()
	.x(function(d, i) { return x(times[i]); })
	.y(function(d) { return yP(d); });

var plot = svg.append("g").attr("clip-path", "url(#plot)").attr("fill", "none");

plot.append("g").selectAll("path")
	.data(tempMembers).enter().append("path")
	.attr("d", lineT)
	.attr("stroke", function(d, i) { return memberColors[i]; })
	.attr("stroke-width", 1);

plot.append("g").selectAll("path")
	.data(precipMembers).enter().append("path")
	.attr("d", lineP)
	.attr("stroke", function(d, i) { return memberColors[i]; })
	.attr("stroke-width", 1);

function thick(data, line, color, width) {
	plot.append("path")
		.attr("d", line(data))
		.attr("stroke", color)
		.attr("stroke-width", width)
		.attr("stroke-linejoin", "round");
}

thick(tempControl, lineT, "#0000ff", 4);
thick(precipControl, lineP, "#0000ff", 4);
thick(tempMean, lineT, "#ffffff", 3.2);
thick(precipMean, lineP, "#ffffff", 3.2);
thick(tempOper, lineT, "#00dd00", 4);
thick(precipOper, lineP, "#00dd00", 4);
thick(tempClimate, lineT, "#f04040", 3.5);

// frame
svg.append("rect")
	.attr("x", LEFT + 0.5).attr("y", TOP + 0.5)
	.attr("width", RIGHT - LEFT - 1).attr("height", BOTTOM - TOP)
	.attr("fill", "none").attr("stroke", "#d8d8d8").attr("stroke-width", 1);

// axes
function styleAxis(g, size) {
	g.select(".domain").remove();
	g.selectAll(".tick line").attr("stroke", "#d8d8d8");
	g.selectAll(".tick text").attr("fill", "#e8e8e8").attr("font-size", size)
		.attr("font-family", "DejaVu Sans");
}

svg.append("g")
	.attr("transform", "translate(" + LEFT + ",0)")
	.call(d3.axisLeft(yT).tickValues(tempTicks).tickSize(-4).tickPadding(9))
	.call(styleAxis, 11);

svg.append("g")
	.attr("transform", "translate(" + RIGHT + ",0)")
	.call(d3.axisRight(yP).tickValues(d3.range(0, 41)).tickSize(-4).tickPadding(8)
		.tickFormat(function(d) { return precipTicks.indexOf(d) != -1 ? d : ""; }))
	.call(styleAxis, 11);

svg.append("g")
	.attr("transform", "translate(0," + BOTTOM + ")")
	.call(d3.axisBottom(x).tickValues(d3.utcDay.every(2).range(new Date(start), new Date(end)))
		.tickSize(-4).tickPadding(9).tickFormat(d3.utcFormat("%d%b %Hz")))
	.call(styleAxis, 10.5);

// labels
svg.append("text")
	.attr("x", 436).attr("y", 17)
	.attr("text-anchor", "middle")
	.attr("fill", "#fff")
	.attr("font-size", 16)
	.attr("font-weight", "bold")
	.style("white-space", "pre")
	.text("Brussels  (BE)  850 hPa Temp. & Precipitation | Sat, 03Jan2026 12Z");

svg.append("text")
	.attr("transform", "translate(133,295) rotate(-90)")
	.attr("text-anchor", "middle")
	.attr("fill", "#e8e8e8").attr("font-size", 10)
	.text("850 hPa Temp. (°C)");

svg.append("text")
	.attr("transform", "translate(844,295) rotate(-90)")
	.attr("text-anchor", "middle")
	.attr("fill", "#e8e8e8").attr("font-size", 10)
	.text("Precipitation (mm)");

svg.append("text")
	.attr("x", 486).attr("y", 593)
	.attr("text-anchor", "middle")
	.attr("fill", "#e8e8e8").attr("font-size", 10)
	.text("Date (UTC)");

svg.append("text")
	.attr("x", 120).attr("y", 605)
	.attr("fill", "#e0e0e0").attr("font-size", 16)
	.text("GFS Ensemble, 51N, 4.5E");

svg.append("text")
	.attr("x", 793).attr("y", 605)
	.attr("text-anchor", "end")
	.attr("fill", "#e0e0e0").attr("font-size", 16)
	.text("Wetterzentrale.de");

// legend
var legend = svg.append("g").attr("font-size", 11).attr("fill", "#fff");

function legendItem(col, yy, color, label) {
	var x0 = col ? 53 : 0, x1 = col ? 63 : 7;
	legend.append("line")
		.attr("x1", x0).attr("x2", x1).attr("y1", yy).attr("y2", yy)
		.attr("stroke", color).attr("stroke-width", 2);
	label.forEach(function(line, i) {
		legend.append("text")
			.attr("x", x1 + 1.5).attr("y", yy + i * 12)
			.attr("dy", "0.36em")
			.text(line);
	});
}

memberNames.forEach(function(name, i) {
	legendItem(i % 2, 39 + Math.floor(i / 2) * 15, memberColors[i], [name]);
});
legendItem(0, 265, "#0000ff", ["Control"]);
legendItem(1, 265, "#ffffff", ["Ens. mean"]);
legendItem(1, 292, "#f04040", ["1991-2020", "mean"]);
legendItem(0, 305, "#00dd00", ["Oper"]);
</script>
</body>
</html>
